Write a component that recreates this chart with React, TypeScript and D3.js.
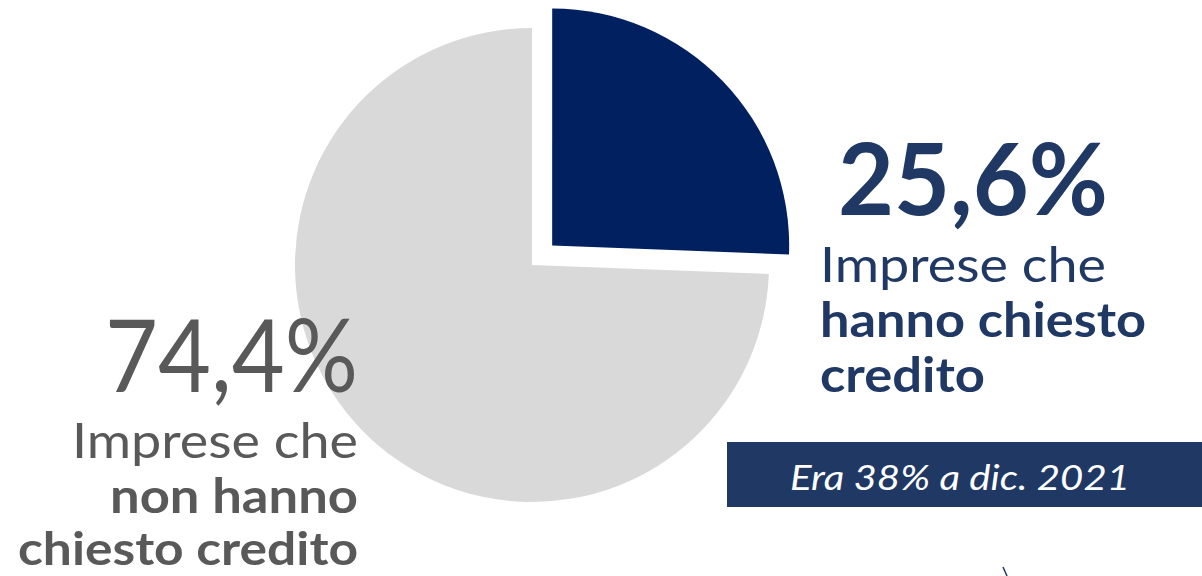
import React from "react";
import * as d3 from "d3";

const categories = ["Imprese che hanno chiesto credito", "Imprese che non hanno chiesto credito"];
const values = [25.6, 74.4];
const valueLabels = ["25,6%", "74,4%"];
const sliceColors = ["#002060", "#D9D9D9"];
const noteText = "Era 38% a dic. 2021";

const W = 1202;
const H = 576;
const cx = 532;
const cy = 265;
const R = 237;
const explode = 28;

export default function App() {
  const pie = d3.pie<number>().sort(null).startAngle(0).endAngle(2 * Math.PI);
  const arcs = pie(values);
  const arcGen = d3.arc<d3.PieArcDatum<number>>().innerRadius(0).outerRadius(R);
  const navy = "#203864";
  const grey = "#595959";
  const font = "Lato, 'Open Sans', sans-serif";

  return (
    <svg width={W} height={H} style={{ position: "absolute", left: 0, top: 0, background: "#fff" }}>
      <g transform={`translate(${cx},${cy})`}>
        {arcs.map((a, i) => {
          const mid = (a.startAngle + a.endAngle) / 2;
          const off = i === 0 ? explode : 0;
          const dx = Math.sin(mid) * off;
          const dy = -Math.cos(mid) * off;
          return (
            <path key={categories[i]} d={arcGen(a) || ""} fill={sliceColors[i]} transform={`translate(${dx},${dy})`} />
          );
        })}
      </g>

      {/* Right block */}
      <text x={838} y={215} fontFamily={font} fontWeight={700} fontSize={100} fill={navy} textLength={270} lengthAdjust="spacingAndGlyphs">{valueLabels[0]}</text>
      <text x={820} y={282} fontFamily={font} fontWeight={400} fontSize={48} fill={navy} textLength={286} lengthAdjust="spacingAndGlyphs">Imprese che</text>
      <text x={820} y={337} fontFamily={font} fontWeight={700} fontSize={47} fill={navy} textLength={326} lengthAdjust="spacingAndGlyphs">hanno chiesto</text>
      <text x={820} y={392} fontFamily={font} fontWeight={700} fontSize={47} fill={navy} textLength={165} lengthAdjust="spacingAndGlyphs">credito</text>

      {/* Left block */}
      <text x={105} y={392} fontFamily={font} fontWeight={400} fontSize={100} fill={grey} textLength={253} lengthAdjust="spacingAndGlyphs">{valueLabels[1]}</text>
      <text x={72} y={458} fontFamily={font} fontWeight={400} fontSize={48} fill={grey} textLength={286} lengthAdjust="spacingAndGlyphs">Imprese che</text>
      <text x={110} y={513} fontFamily={font} fontWeight={700} fontSize={47} fill={grey} textLength={248} lengthAdjust="spacingAndGlyphs">non hanno</text>
      <text x={18} y={565} fontFamily={font} fontWeight={700} fontSize={46} fill={grey} textLength={340} lengthAdjust="spacingAndGlyphs">chiesto credito</text>

      {/* Note box */}
      <rect x={727} y={442} width={W - 727} height={65} fill={navy} />
      <text x={790} y={490} fontFamily={font} fontStyle="italic" fontWeight={400} fontSize={35} fill="#ffffff" textLength={340} lengthAdjust="spacingAndGlyphs">{noteText}</text>

      <line x1={1003} y1={567} x2={1007} y2={576} stroke={navy} strokeWidth={1.5} />
    </svg>
  );
}
